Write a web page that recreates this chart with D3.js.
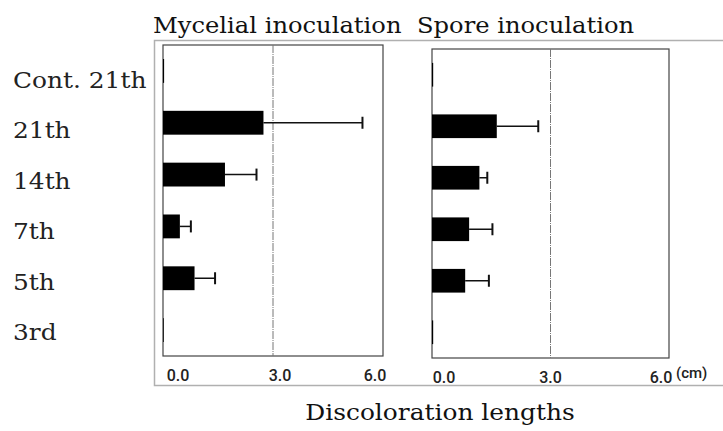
<!DOCTYPE html>
<html>
<head>
<meta charset="utf-8">
<script src="https://cdn.jsdelivr.net/npm/d3@7"></script>
<style>
  body { margin: 0; background: #fff; }
  svg { display: block; }
</style>
</head>
<body>
<svg id="chart" width="723" height="431"></svg>
<script>
// values (cm)
const categories = ["Cont. 21th", "21th", "14th", "7th", "5th", "3rd"];
const mycelialMean = [0.03, 2.74, 1.69, 0.46, 0.86, 0.02];
const mycelialSd = [0, 2.70, 0.86, 0.30, 0.56, 0];
const sporeMean = [0.03, 1.64, 1.20, 0.94, 0.84, 0.03];
const sporeSd = [0, 1.05, 0.20, 0.59, 0.60, 0];
const xTicks = [0, 3, 6];

const svg = d3.select("#chart");
const serif = "'DejaVu Serif', serif";
const sans = "Roboto, 'Liberation Sans', sans-serif";

// the scan uses a wider serif, so stretch DejaVu a little
function stretch(sel, factor) {
    sel.each(function () {
        const len = this.getComputedTextLength();
        d3.select(this)
            .attr("textLength", len * factor)
            .attr("lengthAdjust", "spacingAndGlyphs");
    });
}

// outer grey frame
svg.append("rect")
    .attr("x", 154.5).attr("y", 40.5)
    .attr("width", 600).attr("height", 345)
    .attr("fill", "none").attr("stroke", "#b0b0b0").attr("stroke-width", 1.5);

// category labels on the left
const yLabel = d3.scaleBand().domain(categories).range([55, 358]);
svg.append("g").selectAll("text")
    .data(categories)
    .enter()
    .append("text")
    .attr("x", 13)
    .attr("y", d => yLabel(d) + yLabel.bandwidth() / 2)
    .attr("dy", "0.35em")
    .attr("font-family", serif)
    .attr("font-size", 22)
    .attr("fill", "#222")
    .text(d => d)
    .call(stretch, 1.13);

const panels = [
    {title: "Mycelial inoculation", titleX: 153, mean: mycelialMean, sd: mycelialSd,
     left: 163, right: 383, top: 45, bottom: 356, tickY: 381, tickShift: [15, 7, -8], unit: false},
    {title: "Spore inoculation", titleX: 417, mean: sporeMean, sd: sporeSd,
     left: 432, right: 669, top: 49, bottom: 358, tickY: 383, tickShift: [12, 0, -8], unit: true}
];

panels.forEach(p => {
    const g = svg.append("g");
    const x = d3.scaleLinear().domain([0, 6]).range([p.left, p.right]);
    const y = d3.scaleBand().domain(categories).range([p.top, p.bottom]);
    const barH = y.bandwidth() * 0.46;

    g.append("text")
        .attr("x", p.titleX).attr("y", 33)
        .attr("font-family", serif).attr("font-size", 22)
        .attr("fill", "#111")
        .text(p.title)
        .call(stretch, 1.1);

    // panel box
    g.append("rect")
        .attr("x", p.left).attr("y", p.top)
        .attr("width", p.right - p.left).attr("height", p.bottom - p.top)
        .attr("fill", "none").attr("stroke", "#444").attr("stroke-width", 1.2);

    // 3.0 reference line
    g.append("line")
        .attr("x1", x(3)).attr("x2", x(3))
        .attr("y1", p.top).attr("y2", p.bottom)
        .attr("stroke", "#777").attr("stroke-width", 1)
        .attr("stroke-dasharray", "8,1,1,1");

    // tick labels, slightly pulled inward as in the scan
    g.append("g").selectAll("text")
        .data(xTicks)
        .enter()
        .append("text")
        .attr("x", (d, i) => x(d) + p.tickShift[i])
        .attr("y", p.tickY)
        .attr("text-anchor", "middle")
        .style("font-family", sans)
        .style("font-size", "16px")
        .style("font-weight", 500)
        .attr("fill", "#222")
        .text(d => d.toFixed(1));

    if (p.unit) {
        g.append("text")
            .attr("x", x(6) + 7).attr("y", p.tickY - 5)
            .style("font-family", sans)
            .style("font-size", "15px").style("font-weight", 500)
            .attr("fill", "#222")
            .text("(cm)");
    }

    const rows = categories.map((c, i) => ({cat: c, mean: p.mean[i], sd: p.sd[i]}));

    // error bars
    const err = rows.filter(d => d.sd > 0);
    g.append("g").selectAll("line")
        .data(err)
        .enter()
        .append("line")
        .attr("x1", d => x(d.mean)).attr("x2", d => x(d.mean + d.sd))
        .attr("y1", d => y(d.cat) + y.bandwidth() / 2)
        .attr("y2", d => y(d.cat) + y.bandwidth() / 2)
        .attr("stroke", "#111").attr("stroke-width", 1.5);
    g.append("g").selectAll("line")
        .data(err)
        .enter()
        .append("line")
        .attr("x1", d => x(d.mean + d.sd)).attr("x2", d => x(d.mean + d.sd))
        .attr("y1", d => y(d.cat) + y.bandwidth() / 2 - 6)
        .attr("y2", d => y(d.cat) + y.bandwidth() / 2 + 6)
        .attr("stroke", "#111").attr("stroke-width", 2);

    // bars
    g.append("g").selectAll("rect")
        .data(rows)
        .enter()
        .append("rect")
        .attr("x", x(0))
        .attr("y", d => y(d.cat) + (y.bandwidth() - barH) / 2)
        .attr("width", d => x(d.mean) - x(0))
        .attr("height", barH)
        .attr("fill", "#000");
});

svg.append("text")
    .attr("x", 440).attr("y", 420)
    .attr("text-anchor", "middle")
    .attr("font-family", serif).attr("font-size", 22)
    .attr("fill", "#111")
    .text("Discoloration lengths")
    .call(stretch, 1.13);
</script>
</body>
</html>
